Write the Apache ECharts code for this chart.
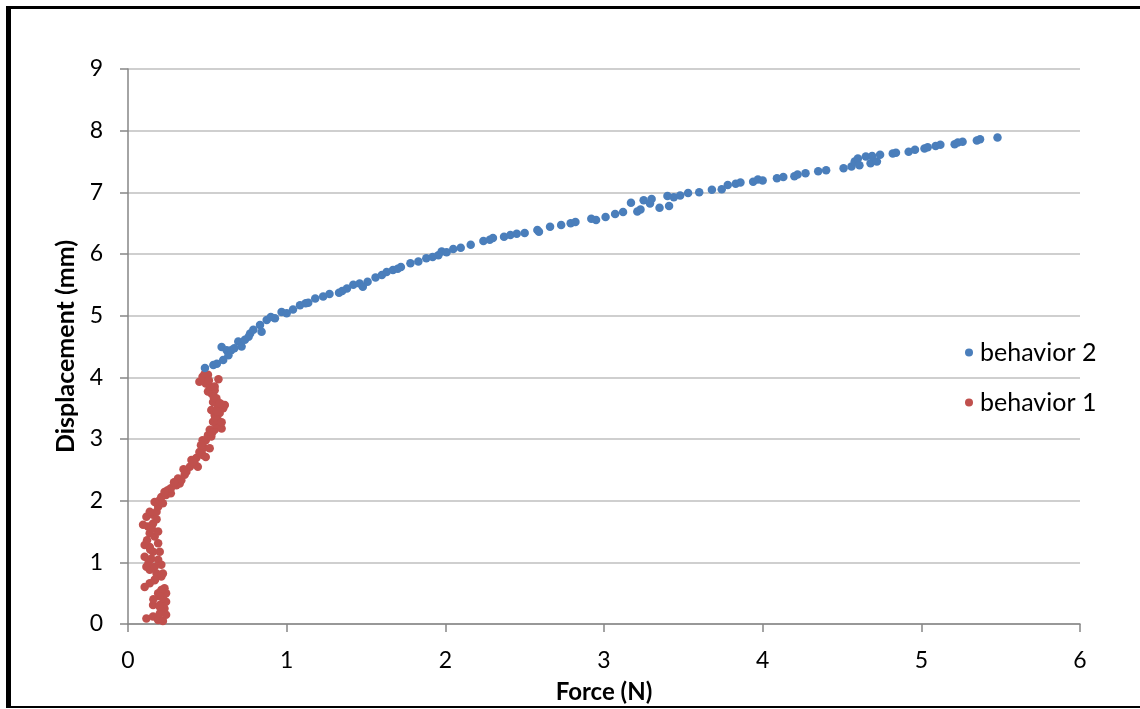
<!DOCTYPE html>
<html><head><meta charset="utf-8">
<script src="https://cdn.jsdelivr.net/npm/echarts@6/dist/echarts.min.js"></script>
<style>
html,body{margin:0;padding:0;background:#fff;}
#wrap{position:relative;width:1140px;height:709px;overflow:hidden;}
#chart{position:absolute;left:0;top:0;width:1140px;height:709px;}
#frame{position:absolute;left:6px;top:6px;width:1200px;height:697px;border-left:5px solid #000;border-top:3px solid #000;border-bottom:2px solid #000;pointer-events:none;}
</style></head>
<body><div id="wrap"><div id="chart"></div><div id="frame"></div></div>
<script>
// Force (N), Displacement (mm) pairs
const behavior2Force = [0.485,0.538,0.59,0.60,0.622,0.633,0.65,0.695,0.716,0.737,0.77,0.79,0.832,0.842,0.874,0.926,0.968,1.0,1.04,1.084,1.136,1.18,1.23,1.27,1.33,1.38,1.42,1.46,1.51,1.56,1.60,1.63,1.67,1.72,1.78,1.83,1.88,1.956,1.977,2.008,2.05,2.097,2.16,2.24,2.28,2.30,2.37,2.41,2.45,2.50,2.58,2.59,2.66,2.73,2.79,2.82,2.92,2.95,3.01,3.07,3.12,3.17,3.21,3.23,3.25,3.29,3.30,3.35,3.41,3.40,3.44,3.48,3.53,3.60,3.68,3.742,3.78,3.83,3.86,3.94,3.97,4.00,4.09,4.13,4.20,4.22,4.27,4.35,4.40,4.51,4.56,4.58,4.60,4.61,4.65,4.68,4.69,4.72,4.74,4.82,4.84,4.92,4.96,5.02,5.04,5.09,5.12,5.21,5.23,5.26,5.35,5.37,5.48,0.56,0.67,0.76,0.90,1.12,1.35,1.48,1.70,1.92];
const behavior2Disp = [4.15,4.2,4.49,4.28,4.44,4.36,4.44,4.58,4.50,4.61,4.71,4.77,4.85,4.74,4.93,4.96,5.06,5.04,5.10,5.17,5.21,5.28,5.31,5.35,5.37,5.44,5.50,5.52,5.55,5.62,5.66,5.71,5.74,5.79,5.85,5.88,5.93,5.98,6.04,6.03,6.08,6.10,6.15,6.21,6.23,6.26,6.28,6.31,6.33,6.34,6.39,6.36,6.44,6.47,6.50,6.52,6.57,6.55,6.60,6.65,6.68,6.83,6.69,6.72,6.87,6.82,6.89,6.75,6.78,6.94,6.92,6.95,6.99,7.0,7.04,7.05,7.12,7.14,7.16,7.17,7.21,7.19,7.23,7.25,7.26,7.29,7.31,7.34,7.36,7.39,7.42,7.50,7.55,7.44,7.58,7.47,7.59,7.50,7.61,7.63,7.64,7.66,7.69,7.71,7.73,7.75,7.77,7.78,7.81,7.82,7.84,7.86,7.89,4.22,4.47,4.66,4.98,5.20,5.40,5.47,5.76,5.95];
const behavior1Force = [0.116,0.158,0.19,0.20,0.23,0.24,0.158,0.20,0.22,0.24,0.19,0.23,0.21,0.105,0.137,0.168,0.21,0.22,0.18,0.137,0.116,0.168,0.105,0.147,0.19,0.20,0.158,0.137,0.105,0.19,0.168,0.137,0.19,0.126,0.095,0.158,0.116,0.158,0.18,0.137,0.19,0.168,0.20,0.22,0.21,0.24,0.27,0.25,0.27,0.305,0.326,0.315,0.336,0.357,0.368,0.39,0.42,0.40,0.44,0.43,0.47,0.45,0.49,0.48,0.515,0.47,0.49,0.504,0.525,0.515,0.546,0.557,0.536,0.59,0.567,0.546,0.578,0.60,0.61,0.567,0.525,0.536,0.557,0.525,0.546,0.504,0.515,0.49,0.45,0.47,0.504,0.483,0.57,0.546,0.22,0.20,0.13,0.24,0.55,0.58,0.17,0.21,0.12,0.15,0.18,0.14,0.16,0.2,0.23,0.29,0.35,0.41,0.46,0.53,0.56,0.59,0.54,0.51];
const behavior1Disp = [0.09,0.12,0.065,0.17,0.25,0.36,0.31,0.31,0.42,0.5,0.5,0.58,0.55,0.6,0.66,0.71,0.77,0.82,0.82,0.88,0.93,0.93,1.09,1.06,1.04,1.17,1.17,1.25,1.28,1.31,1.42,1.47,1.5,1.58,1.61,1.63,1.74,1.77,1.82,1.82,1.9,1.98,2.01,1.96,2.06,2.09,2.12,2.17,2.2,2.25,2.28,2.36,2.33,2.42,2.47,2.55,2.6,2.66,2.55,2.69,2.74,2.79,2.71,2.86,2.85,2.98,2.98,3.06,3.04,3.15,3.15,3.23,3.28,3.17,3.31,3.39,3.42,3.5,3.55,3.52,3.47,3.6,3.66,3.74,3.79,3.77,3.85,3.9,3.93,4.01,4.04,4.06,3.97,3.85,0.05,0.45,1.0,0.15,3.35,3.58,0.72,0.96,1.36,1.55,1.70,1.21,0.40,0.28,2.14,2.30,2.51,2.63,2.90,3.10,3.45,3.27,3.68,3.95];
const xTicks = [0,1,2,3,4,5,6];
const yTicks = [0,1,2,3,4,5,6,7,8,9];

function pairs(a,b){return a.map((v,i)=>[v,b[i]]);}
const FONT = 'Lato, "Open Sans", sans-serif';
const chart = echarts.init(document.getElementById('chart'), null, {renderer:'canvas'});
chart.setOption({
  animation:false,
  backgroundColor:'#fff',
  grid:{left:128,right:60,top:69,bottom:85,containLabel:false},
  xAxis:{type:'value',min:xTicks[0],max:xTicks[xTicks.length-1],interval:1,
    name:'Force (N)',nameLocation:'middle',nameGap:56,
    nameTextStyle:{fontFamily:FONT,fontSize:24,fontWeight:'bold',color:'#000'},
    axisLine:{show:true,lineStyle:{color:'#868686',width:1.5}},
    axisTick:{show:true,length:8,lineStyle:{color:'#868686',width:1.5}},
    axisLabel:{fontFamily:FONT,fontSize:23,color:'#000',margin:25},
    splitLine:{show:false}},
  yAxis:{type:'value',min:yTicks[0],max:yTicks[yTicks.length-1],interval:1,
    name:'Displacement (mm)',nameLocation:'middle',nameGap:48,
    nameTextStyle:{fontFamily:FONT,fontSize:25,fontWeight:'bold',color:'#000'},
    axisLine:{show:true,lineStyle:{color:'#868686',width:1.5}},
    axisTick:{show:true,length:8,lineStyle:{color:'#868686',width:1.5}},
    axisLabel:{fontFamily:FONT,fontSize:23,color:'#000',margin:25},
    splitLine:{show:true,lineStyle:{color:'#BFBFBF',width:1.5}}},
  legend:{orient:'vertical',left:960,top:335,itemGap:25,itemWidth:8,itemHeight:8,
    icon:'circle',data:['behavior 2','behavior 1'],
    textStyle:{fontFamily:FONT,fontSize:25,color:'#000',padding:[0,0,0,2]}},
  series:[
    {name:'behavior 1',type:'scatter',symbol:'circle',symbolSize:8.5,
     itemStyle:{color:'#C0504D',opacity:1},data:pairs(behavior1Force,behavior1Disp)},
    {name:'behavior 2',type:'scatter',symbol:'circle',symbolSize:8.5,
     itemStyle:{color:'#4A7EBB',opacity:1},data:pairs(behavior2Force,behavior2Disp)}
  ]
});
</script></body></html>
